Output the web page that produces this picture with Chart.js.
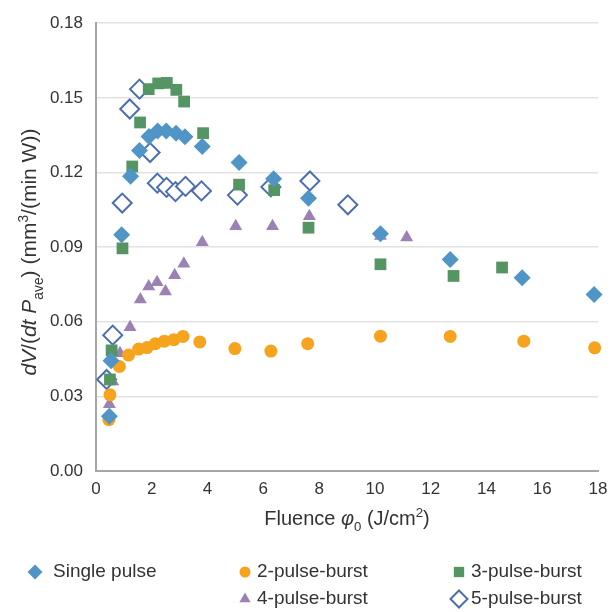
<!DOCTYPE html>
<html>
<head>
<meta charset="utf-8">
<script src="https://cdn.jsdelivr.net/npm/chart.js@4/dist/chart.umd.min.js"></script>
<style>
  html, body { margin: 0; padding: 0; background: #fff; }
  #wrap { width: 616px; height: 612px; }
</style>
</head>
<body>
<div id="wrap"><canvas id="chart" width="616" height="612"></canvas></div>
<script>
// --- DATA ---
const singleX = [0.48, 0.54, 0.92, 1.24, 1.56, 1.9, 2.21, 2.52, 2.87, 3.19, 3.81, 5.13, 6.37, 7.62, 10.2, 12.7, 15.28, 17.86];
const singleY = [0.022, 0.0443, 0.095, 0.1185, 0.1288, 0.1345, 0.1367, 0.1367, 0.1358, 0.1344, 0.1304, 0.124, 0.1175, 0.1096, 0.0954, 0.085, 0.0777, 0.0709];

const pulse2X = [0.46, 0.5, 0.84, 1.17, 1.53, 1.83, 2.13, 2.45, 2.79, 3.12, 3.72, 4.98, 6.27, 7.59, 10.2, 12.7, 15.34, 17.88];
const pulse2Y = [0.0206, 0.0306, 0.042, 0.0466, 0.049, 0.0496, 0.0512, 0.0522, 0.0528, 0.0541, 0.0519, 0.0492, 0.0482, 0.0512, 0.0542, 0.0541, 0.0522, 0.0495];

const pulse3X = [0.5, 0.56, 0.95, 1.3, 1.58, 1.89, 2.23, 2.54, 2.88, 3.16, 3.84, 5.13, 6.39, 7.62, 10.2, 12.82, 14.56];
const pulse3Y = [0.0368, 0.0485, 0.0895, 0.1224, 0.1401, 0.1535, 0.1558, 0.156, 0.1532, 0.1485, 0.1358, 0.1151, 0.1129, 0.0978, 0.0831, 0.0784, 0.0818];

const pulse4X = [0.48, 0.6, 0.86, 1.22, 1.59, 1.89, 2.19, 2.49, 2.82, 3.15, 3.81, 5.01, 6.33, 7.65, 10.2, 11.14];
const pulse4Y = [0.0268, 0.036, 0.0473, 0.0578, 0.0689, 0.0742, 0.0759, 0.0722, 0.0787, 0.0833, 0.0919, 0.0984, 0.0984, 0.1024, 0.0945, 0.0939];

const pulse5X = [0.38, 0.6, 0.94, 1.21, 1.56, 1.94, 2.2, 2.53, 2.85, 3.21, 3.78, 5.07, 6.27, 7.67, 9.03];
const pulse5Y = [0.0368, 0.0546, 0.1077, 0.1455, 0.1535, 0.128, 0.1157, 0.114, 0.1123, 0.1144, 0.1126, 0.1109, 0.1142, 0.1166, 0.107];

const seriesNames = ['Single pulse', '2-pulse-burst', '3-pulse-burst', '4-pulse-burst', '5-pulse-burst'];
const xTicks = [0, 2, 4, 6, 8, 10, 12, 14, 16, 18];
const yTicks = [0, 0.03, 0.06, 0.09, 0.12, 0.15, 0.18];

// --- STYLE ---
const FONT = '"Liberation Sans", Arial, sans-serif';
const TEXT = '#333333';

function pts(xs, ys) {
    return xs.map((x, i) => ({ x: x, y: ys[i] }));
}

// marker look per series (legend uses the same)
const markers = [
    { pointStyle: 'rectRot', radius: 8.5, bg: '#5095c6', border: '#5095c6', bw: 0, order: 1 },
    { pointStyle: 'circle', radius: 6.5, bg: '#f6a31e', border: '#f6a31e', bw: 0, order: 2 },
    { pointStyle: 'rect', radius: 8.3, bg: '#559463', border: '#559463', bw: 0, order: 3 },
    { pointStyle: 'triangle', radius: 7.5, bg: '#9c82b4', border: '#9c82b4', bw: 0, order: 4 },
    { pointStyle: 'rectRot', radius: 9.5, bg: '#ffffff', border: '#4b6fae', bw: 2, order: 5 }
];

const seriesData = [
    pts(singleX, singleY),
    pts(pulse2X, pulse2Y),
    pts(pulse3X, pulse3Y),
    pts(pulse4X, pulse4Y),
    pts(pulse5X, pulse5Y)
];

// --- RICH TEXT (italics, sub/superscripts) ---
function partFont(p, size) {
    let s = (p.sub || p.sup) ? size * 0.66 : size;
    return (p.i ? 'italic ' : '') + s + 'px ' + FONT;
}

function drawRich(ctx, parts, cx, cy, size) {
    let total = 0;
    parts.forEach(p => { ctx.font = partFont(p, size); total += ctx.measureText(p.t).width; });
    let x = cx - total / 2;
    let base = cy + size * 0.35;
    ctx.textAlign = 'left';
    ctx.textBaseline = 'alphabetic';
    parts.forEach(p => {
        ctx.font = partFont(p, size);
        let y = base;
        if (p.sub) y += size * 0.3;
        if (p.sup) y -= size * 0.4;
        ctx.fillText(p.t, x, y);
        x += ctx.measureText(p.t).width;
    });
}

const xTitle = [{ t: 'Fluence ' }, { t: 'φ', i: true }, { t: '0', sub: true }, { t: ' (J/cm' }, { t: '2', sup: true }, { t: ')' }];
const yTitle = [{ t: 'dV', i: true }, { t: '/(' }, { t: 'dt P', i: true }, { t: 'ave', sub: true }, { t: ') (mm' }, { t: '3', sup: true }, { t: '/(min W))' }];

// legend slots: [marker x, text x, y]
const legendSlots = [[35, 53, 572], [245, 257, 572], [459, 471, 572], [245, 257, 599], [459, 471, 599]];

const decorPlugin = {
    id: 'decor',
    afterDraw(chart) {
        const ctx = chart.ctx;
        const area = chart.chartArea;
        ctx.save();
        ctx.fillStyle = TEXT;

        // x title
        drawRich(ctx, xTitle, (area.left + area.right) / 2, 518, 20);

        // y title (rotated)
        ctx.save();
        ctx.translate(29, (area.top + area.bottom) / 2 + 5);
        ctx.rotate(-Math.PI / 2);
        drawRich(ctx, yTitle, 0, 0, 21);
        ctx.restore();

        // legend
        seriesNames.forEach((name, i) => {
            const m = markers[i];
            const s = legendSlots[i];
            ctx.fillStyle = m.bg;
            ctx.strokeStyle = m.border;
            ctx.lineWidth = m.bw;
            Chart.helpers.drawPoint(ctx, { pointStyle: m.pointStyle, radius: m.radius - 1, rotation: 0, borderWidth: m.bw }, s[0], s[2]);
            ctx.fillStyle = TEXT;
            ctx.font = '19px ' + FONT;
            ctx.textAlign = 'left';
            ctx.textBaseline = 'middle';
            ctx.fillText(name, s[1], s[2]);
        });
        ctx.restore();
    }
};

// --- CHART ---
const datasets = seriesNames.map((name, i) => ({
    label: name,
    data: seriesData[i],
    pointStyle: markers[i].pointStyle,
    pointRadius: markers[i].radius,
    pointHoverRadius: markers[i].radius,
    backgroundColor: markers[i].bg,
    borderColor: markers[i].border,
    borderWidth: markers[i].bw,
    order: markers[i].order,
    clip: false
}));

new Chart(document.getElementById('chart'), {
    type: 'scatter',
    data: { datasets: datasets },
    options: {
        responsive: false,
        animation: false,
        devicePixelRatio: 1,
        layout: { padding: { left: 0, right: 18, top: 15, bottom: 0 } },
        plugins: { legend: { display: false }, tooltip: { enabled: false } },
        scales: {
            x: {
                type: 'linear',
                min: 0, max: 18,
                afterBuildTicks: s => { s.ticks = xTicks.map(v => ({ value: v })); },
                afterFit: s => { s.height = 141; },
                grid: { display: false, drawTicks: false },
                border: { display: true, color: '#a6a6a6', width: 2 },
                ticks: { color: TEXT, font: { size: 17, family: FONT }, padding: 8, maxRotation: 0 }
            },
            y: {
                type: 'linear',
                min: 0, max: 0.18,
                z: 1,
                afterBuildTicks: s => { s.ticks = yTicks.map(v => ({ value: v })); },
                afterFit: s => { s.width = 96; },
                grid: { color: '#e2e2e2', lineWidth: 1.5, drawTicks: false },
                border: { display: true, color: '#a6a6a6', width: 2 },
                ticks: {
                    color: TEXT, font: { size: 17, family: FONT }, padding: 13,
                    callback: v => v.toFixed(2)
                }
            }
        }
    },
    plugins: [decorPlugin]
});
</script>
</body>
</html>
